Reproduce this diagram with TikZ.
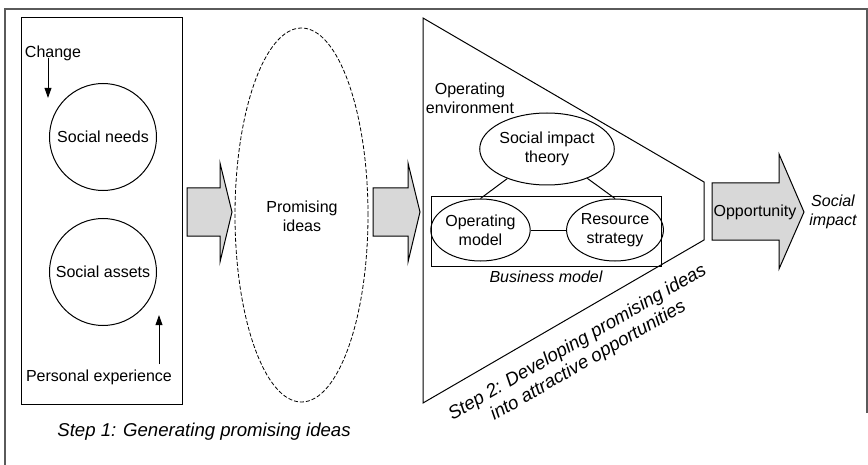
\documentclass[tikz,border=0pt]{standalone}
\usepackage{fontspec}
\setmainfont{Liberation Sans}
\usetikzlibrary{shapes.geometric, arrows.meta, positioning, backgrounds}
\definecolor{arrowgray}{RGB}{216,216,216}
\definecolor{framegray}{RGB}{90,90,90}

\begin{document}
\begin{tikzpicture}[
        x=0.5pt, y=-0.5pt,
        font=\fontsize{8}{9.5}\selectfont,
        every node/.style = {align=center, inner sep=0pt},
        frame/.style = {draw=framegray, line width=0.7pt},
        stepbox/.style = {draw, rectangle, line width=0.5pt, minimum width=80.5pt, minimum height=193pt},
        bigcircle/.style = {draw, circle, line width=0.5pt, minimum size=53.5pt},
        oval/.style = {draw, ellipse, line width=0.5pt},
        ideacloud/.style = {draw, ellipse, dash pattern=on 2pt off 1pt, line width=0.4pt, minimum width=66.5pt, minimum height=187pt},
        blockarrow/.style = {draw, fill=arrowgray, line width=0.5pt, line join=miter},
        arrow/.style = {-{Triangle[length=5pt, width=3.4pt]}, line width=0.5pt},
        link/.style = {line width=0.5pt},
        caption/.style = {font=\fontsize{8}{9.5}\selectfont\itshape},
        stepcaption/.style = {font=\fontsize{9.3}{10.6}\selectfont\itshape}
    ]
        \useasboundingbox (0,0) rectangle (868,465);

        % === Outer frame ===
        \draw [frame] (5,465) -- (5,9) -- (867,9) -- (867,413);

        % === Step 1: Generating ===
        \node (stepOneBox) [stepbox] at (101.5,211) {};
        \node (needs) [bigcircle] at (103,137) {Social needs};
        \node (assets) [bigcircle] at (103,272) {Social assets};
        \node (change) at (53,53) {Change};
        \node (experience) at (99,377) {Personal experience};
        \coordinate (changeTip) at (48,98);
        \coordinate (experienceTip) at (159,315);
        \node (stepOneLabel) [stepcaption] at (204,432) {Step 1: Generating promising ideas};

        % === Promising ideas ===
        \node (ideas) [ideacloud] at (301.5,215) {};
        \node (ideasText) at (302,216) {Promising\\ideas};

        % === Step 2: Developing ===
        \draw [link] (423,18) -- (704,182) -- (704,240) -- (423,403) -- cycle;
        \node (environment) at (470,98) {Operating\\environment};
        \node (theory) [oval, minimum width=52pt, minimum height=36pt] at (547,149) {Social impact\\theory};
        \node (bizBox) [draw, line width=0.5pt, minimum width=115pt, minimum height=34.5pt] at (546,231.5) {};
        \node (opModel) [oval, minimum width=42.5pt, minimum height=31pt] at (480.5,230) {Operating\\model};
        \node (resource) [oval, minimum width=42pt, minimum height=31pt] at (615,230) {Resource\\strategy};
        \node (bizLabel) [caption] at (546,277) {Business model};
        \node (stepTwoLabel) [stepcaption, rotate=30] at (583,352) {Step 2: Developing promising ideas\\into attractive opportunities};

        % === Block arrows ===
        \draw [blockarrow] (187,188) -- (220,188) -- (220,163) -- (232,212) -- (220,262) -- (220,236) -- (187,236) -- cycle;
        \draw [blockarrow] (373,188) -- (408,188) -- (408,163) -- (420,212) -- (408,262) -- (408,236) -- (373,236) -- cycle;
        \draw [blockarrow] (712,183) -- (779,183) -- (779,154) -- (804,212) -- (779,269) -- (779,240) -- (712,240) -- cycle;
        \node (opportunity) at (755,212) {Opportunity};
        \node (impact) [caption] at (833,212) {Social\\impact};

        % === Arrows and links ===
        \draw [arrow] (change.south -| changeTip) ++(0,-3) -- (changeTip);
        \draw [arrow] (experience.north -| experienceTip) ++(0,-5) -- (experienceTip);
        \draw [link] (theory) -- (opModel.north);
        \draw [link] (theory) -- (resource.north);
        \draw [link] (opModel) -- (resource);

    \end{tikzpicture}
\end{document}
